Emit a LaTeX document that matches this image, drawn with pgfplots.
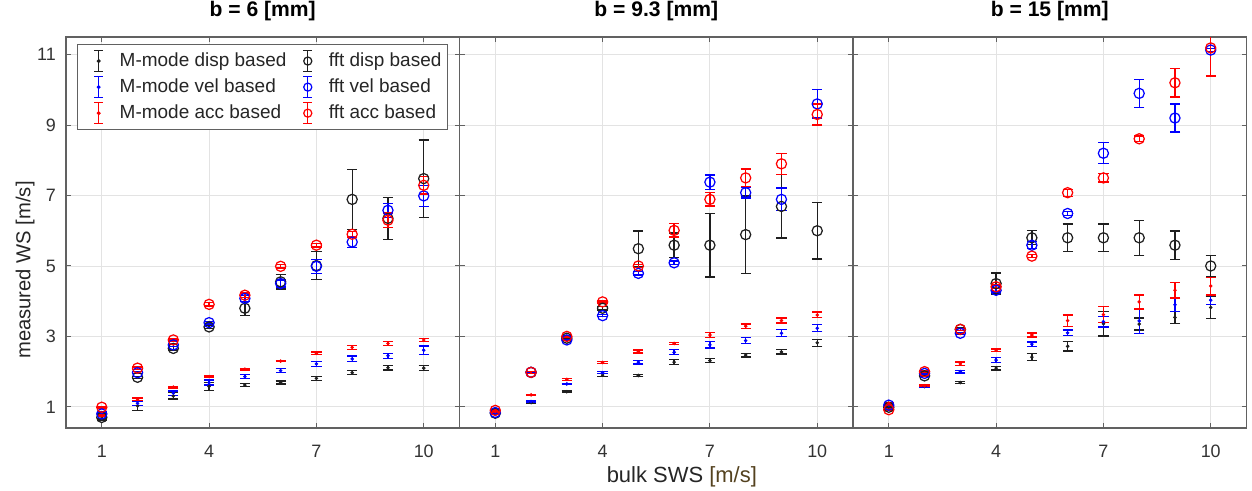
\documentclass[border=0pt]{standalone}
\usepackage{pgfplots}
\usepackage{pgfplotstable}
\pgfplotsset{compat=1.18}
\usepackage{fontspec}
\setmainfont{Liberation Sans}
\definecolor{cK}{rgb}{0.12,0.12,0.12}
\definecolor{cB}{rgb}{0,0,1}
\definecolor{cR}{rgb}{1,0,0}
\definecolor{axgray}{rgb}{0.38,0.38,0.38}
\definecolor{unitc}{rgb}{0.33,0.26,0.12}

\pgfplotstableread{
x md mde mv mve ma mae fd fde fv fve fa fae
1 0.68 0.05 0.82 0.03 0.75 0.02 0.70 0.03 0.80 0.03 0.99 0.02
2 1.03 0.13 1.10 0.06 1.22 0.03 1.84 0.03 1.97 0.03 2.10 0.03
3 1.31 0.09 1.39 0.06 1.56 0.02 2.66 0.05 2.76 0.04 2.90 0.03
4 1.58 0.12 1.69 0.07 1.86 0.02 3.27 0.04 3.39 0.04 3.91 0.05
5 1.62 0.05 1.86 0.05 2.07 0.02 3.80 0.20 4.08 0.08 4.17 0.06
6 1.69 0.04 2.03 0.06 2.30 0.02 4.55 0.20 4.50 0.10 4.99 0.05
7 1.81 0.06 2.22 0.07 2.52 0.04 5.01 0.40 4.99 0.20 5.59 0.05
8 1.97 0.06 2.36 0.08 2.69 0.06 6.89 0.85 5.68 0.15 5.90 0.08
9 2.11 0.06 2.45 0.07 2.80 0.06 6.35 0.60 6.58 0.20 6.30 0.20
10 2.10 0.07 2.61 0.12 2.90 0.05 7.48 1.10 6.99 0.30 7.29 0.25
}\tA
\pgfplotstableread{
x md mde mv mve ma mae fd fde fv fve fa fae
1 0.80 0.02 0.82 0.02 0.87 0.02 0.82 0.02 0.84 0.02 0.90 0.02
2 1.12 0.02 1.15 0.02 1.34 0.02 1.98 0.02 1.98 0.02 1.98 0.03
3 1.43 0.02 1.65 0.02 1.78 0.03 2.95 0.02 2.90 0.02 3.00 0.02
4 1.90 0.04 1.97 0.03 2.26 0.03 3.80 0.05 3.59 0.03 3.98 0.03
5 1.89 0.03 2.27 0.05 2.57 0.04 5.49 0.50 4.79 0.05 5.00 0.04
6 2.27 0.07 2.55 0.07 2.80 0.03 5.59 0.35 5.09 0.05 6.01 0.19
7 2.31 0.06 2.76 0.09 3.04 0.08 5.59 0.90 7.38 0.20 6.89 0.19
8 2.47 0.05 2.88 0.09 3.29 0.06 5.89 1.10 7.08 0.15 7.50 0.25
9 2.56 0.06 3.09 0.10 3.45 0.07 6.69 0.90 6.89 0.32 7.90 0.30
10 2.82 0.10 3.23 0.10 3.61 0.08 6.00 0.80 9.60 0.40 9.30 0.30
}\tB
\pgfplotstableread{
x md mde mv mve ma mae fd fde fv fve fa fae
1 1.00 0.02 1.05 0.02 1.10 0.02 0.99 0.02 1.05 0.02 0.92 0.02
2 1.58 0.02 1.58 0.02 1.60 0.02 1.88 0.02 1.95 0.02 2.00 0.02
3 1.69 0.03 2.00 0.04 2.22 0.05 3.20 0.04 3.09 0.03 3.20 0.03
4 2.10 0.05 2.33 0.07 2.61 0.03 4.50 0.30 4.31 0.05 4.41 0.05
5 2.41 0.10 2.78 0.06 3.04 0.06 5.80 0.20 5.59 0.10 5.28 0.04
6 2.72 0.13 3.10 0.08 3.45 0.16 5.80 0.39 6.49 0.05 7.08 0.10
7 3.36 0.35 3.42 0.15 3.62 0.22 5.80 0.39 8.20 0.30 7.50 0.12
8 3.35 0.17 3.44 0.36 3.98 0.20 5.80 0.50 9.90 0.40 8.61 0.08
9 3.54 0.17 3.90 0.20 4.31 0.22 5.59 0.40 9.20 0.40 10.20 0.40
10 3.82 0.32 4.03 0.13 4.43 0.25 5.00 0.30 11.13 0.05 11.19 0.80
}\tC

\pgfplotsset{
  eb/.style={only marks,
    error bars/y dir=both, error bars/y explicit,
    error bars/error bar style={line width=0.75pt},
    error bars/error mark options={rotate=90, mark size=2.9pt, line width=0.75pt}},
  mm/.style={eb, mark=*, mark size=0.8pt, mark options={solid},
    legend image code/.code={
      \draw[##1, line width=0.7pt] (0.36cm,-0.21cm) -- (0.36cm,0.21cm)
        (0.27cm,-0.21cm) -- (0.45cm,-0.21cm) (0.27cm,0.21cm) -- (0.45cm,0.21cm);
      \draw[##1] plot coordinates {(0.36cm,0cm)};
      \path (0cm,0cm) (0.7cm,0cm);}},
  ff/.style={eb, mark=o, mark size=2.9pt, mark options={line width=0.7pt},
    legend image code/.code={
      \draw[##1, line width=0.7pt] (0.36cm,-0.21cm) -- (0.36cm,0.21cm)
        (0.27cm,-0.21cm) -- (0.45cm,-0.21cm) (0.27cm,0.21cm) -- (0.45cm,0.21cm);
      \draw[##1, mark size=2.3pt] plot coordinates {(0.36cm,0cm)};
      \path (0cm,0cm) (0.7cm,0cm);}},
  panel/.style={
    scale only axis, width=7.87cm, height=7.82cm, anchor=south west,
    xmin=0, xmax=11, ymin=0.4, ymax=11.5,
    xtick={1,4,7,10}, ytick={1,3,5,7,9,11},
    grid=major, major grid style={gray!22, line width=0.5pt},
    tick align=inside, major tick length=0.1cm,
    tick style={axgray, line width=0.6pt},
    axis line style={axgray, line width=0.9pt},
    /pgf/number format/assume math mode=true,
    ticklabel style={font=\fontsize{10.2}{12}\selectfont, text=black!80},
    xticklabel style={anchor=base, yshift=-0.58cm},
    yticklabel style={anchor=east, xshift=-0.08cm},
    title style={at={(0.5,1)}, anchor=base, yshift=0.2cm,
      font=\fontsize{12}{14}\selectfont\bfseries},
    clip=true,
  },
}

\begin{document}
\begin{tikzpicture}
\path[use as bounding box] (0,0) rectangle (25.04cm,9.8cm);

\begin{axis}[panel, at={(1.32cm,1.24cm)}, title={b = 6 [mm]},
  ylabel={measured WS [m/s]},
  every axis y label/.style={at={(axis description cs:-0.104,0.404)}, rotate=90, anchor=center,
    font=\fontsize{11.5}{13}\selectfont, text=black!85},
  legend columns=2, legend cell align=left,
  legend style={at={(0.028,0.981)}, anchor=north west, draw=axgray, line width=0.6pt,
    font=\fontsize{10.8}{12}\selectfont, text=black!85, inner xsep=1.5pt, inner ysep=2.5pt,
    row sep=1.5pt, column sep=0pt, fill=white},
]
\addplot[mm, cK] table[x=x, y=md, y error=mde] {\tA};
\addlegendentry{\makebox[3.32cm][l]{M-mode disp based}}
\addplot[ff, cK] table[x=x, y=fd, y error=fde] {\tA};
\addlegendentry{fft disp based}
\addplot[mm, cB] table[x=x, y=mv, y error=mve] {\tA};
\addlegendentry{\makebox[3.32cm][l]{M-mode vel based}}
\addplot[ff, cB] table[x=x, y=fv, y error=fve] {\tA};
\addlegendentry{fft vel based}
\addplot[mm, cR] table[x=x, y=ma, y error=mae] {\tA};
\addlegendentry{\makebox[3.32cm][l]{M-mode acc based}}
\addplot[ff, cR] table[x=x, y=fa, y error=fae] {\tA};
\addlegendentry{fft acc based}
\end{axis}

\begin{axis}[panel, at={(9.19cm,1.24cm)}, title={b = 9.3 [mm]}, yticklabels={},
  xlabel={bulk SWS \textcolor{unitc}{[m/s]}},
  every axis x label/.style={at={(axis description cs:0.565,0)}, anchor=base, yshift=-1.08cm,
    font=\fontsize{12.5}{14}\selectfont, text=black!85},
]
\addplot[mm, cK] table[x=x, y=md, y error=mde] {\tB};
\addplot[ff, cK] table[x=x, y=fd, y error=fde] {\tB};
\addplot[mm, cB] table[x=x, y=mv, y error=mve] {\tB};
\addplot[ff, cB] table[x=x, y=fv, y error=fve] {\tB};
\addplot[mm, cR] table[x=x, y=ma, y error=mae] {\tB};
\addplot[ff, cR] table[x=x, y=fa, y error=fae] {\tB};
\end{axis}

\begin{axis}[panel, at={(17.06cm,1.24cm)}, title={b = 15 [mm]}, yticklabels={}]
\addplot[mm, cK] table[x=x, y=md, y error=mde] {\tC};
\addplot[ff, cK] table[x=x, y=fd, y error=fde] {\tC};
\addplot[mm, cB] table[x=x, y=mv, y error=mve] {\tC};
\addplot[ff, cB] table[x=x, y=fv, y error=fve] {\tC};
\addplot[mm, cR] table[x=x, y=ma, y error=mae] {\tC};
\addplot[ff, cR] table[x=x, y=fa, y error=fae] {\tC};
\end{axis}
\end{tikzpicture}
\end{document}
